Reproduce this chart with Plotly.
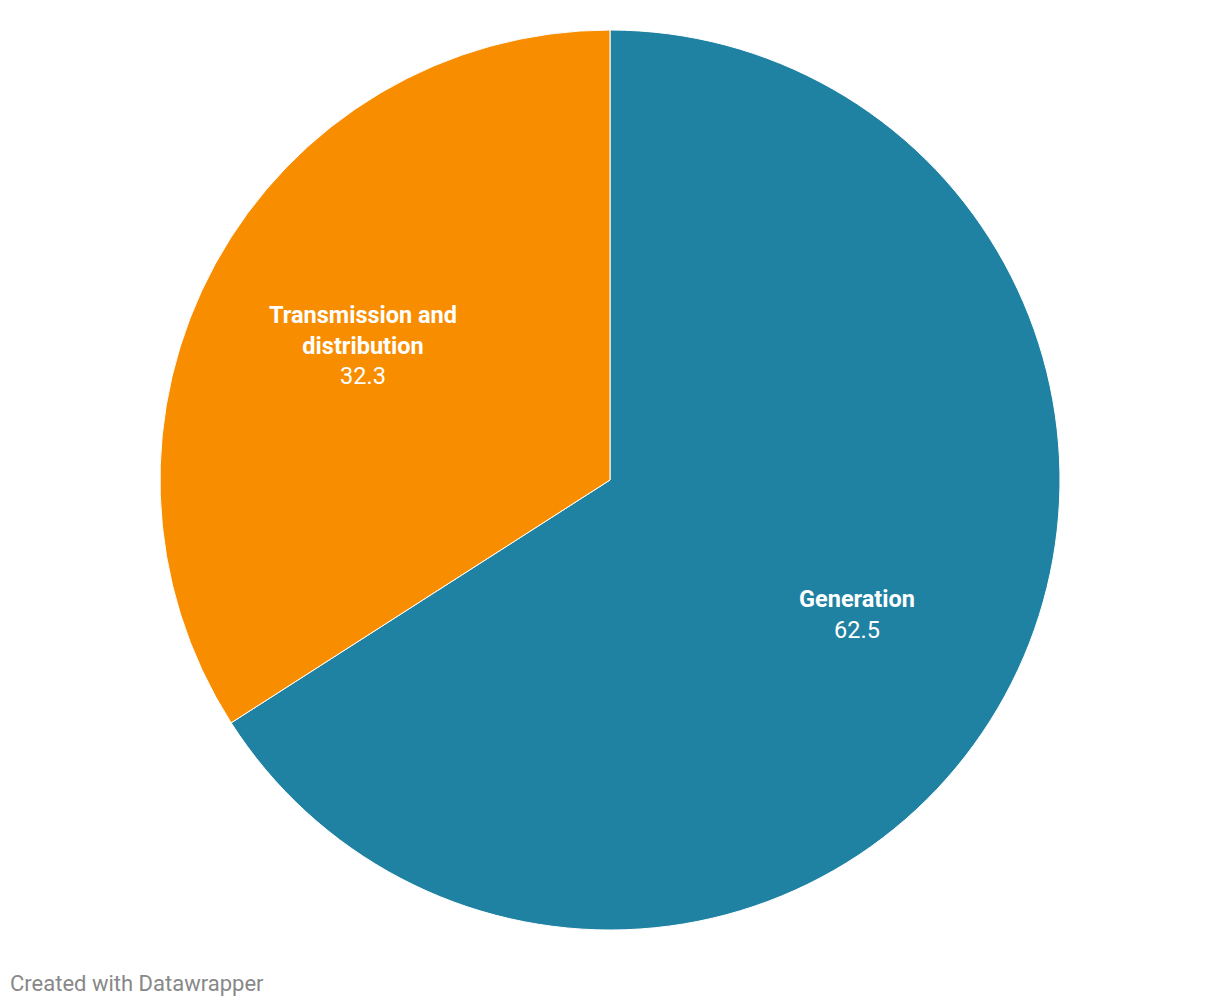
import math
import plotly.graph_objects as go

labels = ["Generation", "Transmission and<br>distribution"]
values = [62.5, 32.3]
colors = ["#1F82A2", "#F88D00"]

OFF = 8  # default page body margin
W, H = 1220 - OFF, 1006 - OFF
cx, cy, R = 610 - OFF, 480 - OFF, 450  # pixel centre and radius of the pie (figure coords)

fig = go.Figure(go.Pie(
    labels=labels,
    values=values,
    sort=False,
    direction="clockwise",
    rotation=0,
    marker=dict(colors=colors, line=dict(color="white", width=1)),
    textinfo="none",
    hoverinfo="label+value",
    showlegend=False,
    domain=dict(x=[(cx - R) / W, (cx + R) / W], y=[(H - cy - R) / H, (H - cy + R) / H]),
))

total = sum(values)
start = 0.0
annotations = []
for lab, v in zip(labels, values):
    frac = v / total
    mid = (start + frac / 2) * 2 * math.pi
    start += frac
    px = cx + 0.625 * R * math.sin(mid)
    py = cy - 0.625 * R * math.cos(mid)
    annotations.append(dict(
        x=px / W, y=1 - py / H, xref="paper", yref="paper",
        text=f"<b>{lab}</b><br>{v}", showarrow=False,
        font=dict(family="Roboto", size=23.5, color="white"),
        align="center", xanchor="center", yanchor="middle",
    ))

annotations.append(dict(
    x=(8 - OFF) / W, y=1 - (983 - OFF) / H, xref="paper", yref="paper",
    text="Created with Datawrapper", showarrow=False,
    font=dict(family="Roboto", size=22, color="#888888"),
    xanchor="left", yanchor="middle",
))

fig.update_layout(
    width=W, height=H,
    margin=dict(l=0, r=0, t=0, b=0),
    paper_bgcolor="white",
    plot_bgcolor="white",
    annotations=annotations,
    font=dict(family="Roboto"),
)

fig.write_html("out.html")
